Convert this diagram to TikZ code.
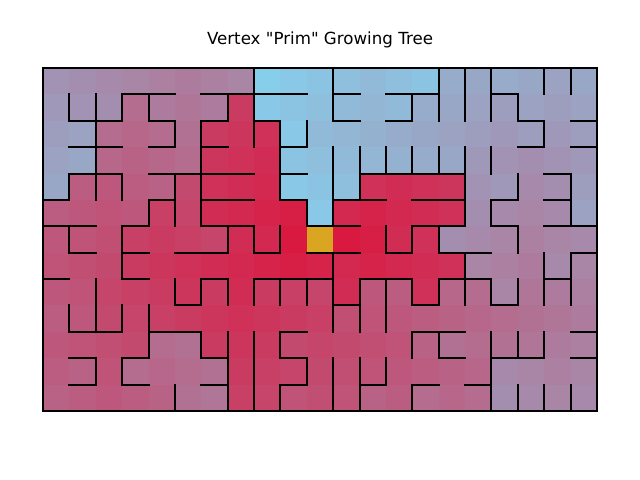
\documentclass[tikz,border=0pt]{standalone}
\usepackage{fontspec}
\setmainfont{DejaVu Sans}[Ligatures=TeXOff]
\definecolor{crimsonc}{RGB}{220,20,60}
\definecolor{skyc}{RGB}{135,206,235}
\definecolor{goldc}{RGB}{218,165,32}
\tikzset{wall/.style={line width=1.45pt,line cap=rect,black}}
\newcommand\mzX{43}
\newcommand\mzY{68}
\newcommand\mzC{26.381}
\newcommand\mzcell[3]{\fill[crimsonc!#3!skyc] ({\mzX+#1*\mzC},{\mzY+#2*\mzC}) rectangle ++(\mzC+0.5,\mzC+0.5);}
\newcommand\mzroot[2]{\fill[goldc] ({\mzX+#1*\mzC},{\mzY+#2*\mzC}) rectangle ++(\mzC+0.5,\mzC+0.5);}
\newcommand\mzlost[2]{\fill[white] ({\mzX+#1*\mzC},{\mzY+#2*\mzC}) rectangle ++(\mzC+0.5,\mzC+0.5);}
\newcommand\mzvwall[2]{\draw[wall] ({\mzX+#1*\mzC},{\mzY+#2*\mzC}) -- ++(0,\mzC);}
\newcommand\mzhwall[2]{\draw[wall] ({\mzX+#2*\mzC},{\mzY+#1*\mzC}) -- ++(\mzC,0);}
\ExplSyntaxOn
\intarray_new:Nn \g_mz_vw_intarray {300}
\intarray_new:Nn \g_mz_hw_intarray {300}
\intarray_new:Nn \g_mz_dist_intarray {300}
\intarray_new:Nn \g_mz_queue_intarray {300}
\int_new:N \l_mz_head_int
\int_new:N \l_mz_tail_int
\int_new:N \l_mz_cell_int
\int_new:N \l_mz_ci_int
\int_new:N \l_mz_cj_int
\int_new:N \l_mz_d_int
\int_new:N \g_mz_max_int
\NewDocumentCommand \mzV { m m }
  { \clist_map_inline:nn {#2} { \intarray_gset:Nnn \g_mz_vw_intarray { (#1)*13 + (##1) + 1 } {1} } }
\NewDocumentCommand \mzH { m m }
  { \clist_map_inline:nn {#2} { \intarray_gset:Nnn \g_mz_hw_intarray { (#1)*21 + (##1) + 1 } {1} } }
\cs_new_protected:Npn \mz_push:nnn #1#2#3
  {
    \intarray_gset:Nnn \g_mz_dist_intarray { (#2)*21 + (#1) + 1 } { (#3) + 1 }
    \int_incr:N \l_mz_tail_int
    \intarray_gset:Nnn \g_mz_queue_intarray { \l_mz_tail_int } { (#2)*21 + (#1) }
    \int_gset:Nn \g_mz_max_int { \int_max:nn { \g_mz_max_int } { #3 } }
  }
\cs_new_protected:Npn \mz_try:nn #1#2
  {
    \int_compare:nNnT { \intarray_item:Nn \g_mz_dist_intarray { (#2)*21 + (#1) + 1 } } = {0}
      { \mz_push:nnn {#1} {#2} { \l_mz_d_int } }
  }
\cs_new_protected:Npn \mz_bfs:
  {
    \int_set:Nn \l_mz_head_int {0}
    \int_set:Nn \l_mz_tail_int {0}
    \mz_push:nnn {10} {6} {0}
    \int_while_do:nNnn { \l_mz_head_int } < { \l_mz_tail_int }
      {
        \int_incr:N \l_mz_head_int
        \int_set:Nn \l_mz_cell_int { \intarray_item:Nn \g_mz_queue_intarray { \l_mz_head_int } }
        \int_set:Nn \l_mz_ci_int { \int_mod:nn { \l_mz_cell_int } {21} }
        \int_set:Nn \l_mz_cj_int { \int_div_truncate:nn { \l_mz_cell_int } {21} }
        \int_set:Nn \l_mz_d_int { \intarray_item:Nn \g_mz_dist_intarray { \l_mz_cell_int + 1 } }
        \int_compare:nNnT { \l_mz_ci_int } > {0}
          {
            \int_compare:nNnT { \intarray_item:Nn \g_mz_vw_intarray { \l_mz_ci_int * 13 + \l_mz_cj_int + 1 } } = {0}
              { \mz_try:nn { \l_mz_ci_int - 1 } { \l_mz_cj_int } }
          }
        \int_compare:nNnT { \l_mz_ci_int } < {20}
          {
            \int_compare:nNnT { \intarray_item:Nn \g_mz_vw_intarray { (\l_mz_ci_int + 1) * 13 + \l_mz_cj_int + 1 } } = {0}
              { \mz_try:nn { \l_mz_ci_int + 1 } { \l_mz_cj_int } }
          }
        \int_compare:nNnT { \l_mz_cj_int } > {0}
          {
            \int_compare:nNnT { \intarray_item:Nn \g_mz_hw_intarray { \l_mz_cj_int * 21 + \l_mz_ci_int + 1 } } = {0}
              { \mz_try:nn { \l_mz_ci_int } { \l_mz_cj_int - 1 } }
          }
        \int_compare:nNnT { \l_mz_cj_int } < {12}
          {
            \int_compare:nNnT { \intarray_item:Nn \g_mz_hw_intarray { (\l_mz_cj_int + 1) * 21 + \l_mz_ci_int + 1 } } = {0}
              { \mz_try:nn { \l_mz_ci_int } { \l_mz_cj_int + 1 } }
          }
      }
  }
\NewDocumentCommand \mzDrawCells { }
  {
    \mz_bfs:
    \int_step_inline:nnn {0} {12}
      {
        \int_step_inline:nnn {0} {20}
          {
            \int_set:Nn \l_mz_d_int { \intarray_item:Nn \g_mz_dist_intarray { ##1 * 21 + ####1 + 1 } }
            \int_compare:nNnTF { \l_mz_d_int } = {0}
              { \mzlost {####1} {##1} }
              {
                \int_compare:nNnTF { \l_mz_d_int } = {1}
                  { \mzroot {####1} {##1} }
                  {
                    \use:e
                      {
                        \exp_not:N \mzcell {####1} {##1}
                          { \fp_eval:n { round( 100 * (1 - (\l_mz_d_int - 1) / \g_mz_max_int ) , 2) } }
                      }
                  }
              }
          }
      }
  }
\NewDocumentCommand \mzDrawWalls { }
  {
    \int_step_inline:nnn {1} {20}
      {
        \int_step_inline:nnn {0} {12}
          {
            \int_compare:nNnT { \intarray_item:Nn \g_mz_vw_intarray { ##1 * 13 + ####1 + 1 } } = {1}
              { \mzvwall {##1} {####1} }
          }
      }
    \int_step_inline:nnn {1} {12}
      {
        \int_step_inline:nnn {0} {20}
          {
            \int_compare:nNnT { \intarray_item:Nn \g_mz_hw_intarray { ##1 * 21 + ####1 + 1 } } = {1}
              { \mzhwall {##1} {####1} }
          }
      }
  }
\ExplSyntaxOff
% vertical walls: \mzV{x-line}{rows}
\mzV{1}{1,4,6,9}
\mzV{2}{1,2,3,4,8,9,11}
\mzV{3}{1,4,6,7,9,11}
\mzV{4}{1,5,9,10}
\mzV{5}{2,4,5,8,12}
\mzV{6}{2,3,4,5,8,10}
\mzV{7}{1,6,8,10,11,12}
\mzV{8}{0,1,2,6,8,10,11,12}
\mzV{9}{2,3,4,6,8,10,12}
\mzV{10}{2,5,8,11}
\mzV{11}{0,1,3,4,5,7,8,9,11,12}
\mzV{12}{3,4,8,9,11,12}
\mzV{13}{3,6,8,9,11}
\mzV{14}{1,3,6,8,10,12}
\mzV{15}{0,1,3,6,8,10}
\mzV{16}{0,1,3,4,5,7,8}
\mzV{17}{0,1,3,5,8,10,11,12}
\mzV{18}{1,4,6,8,10,12}
\mzV{19}{0,2,7,8,10,12}
\mzV{20}{0,4,5,7,8,12}
% horizontal walls: \mzH{y-line}{columns}
\mzH{1}{3,4,6,7,8,9,11,13,14,17}
\mzH{2}{1,2,4,6,8,11,13,18,20}
\mzH{3}{1,2,4,6,9,18,20}
\mzH{4}{1,2,4,5,6,7,9,12,13,14,15,19}
\mzH{5}{0,4,6,7,9,11,12,14,15,17,19}
\mzH{6}{0,1,3,6,7,10,11,14,15,17,19,20}
\mzH{7}{1,3,5,6,8,10,11,13,15,16,20}
\mzH{8}{0,3,6,8,9,10,12,13,15,16,19}
\mzH{9}{5,11,14,17}
\mzH{10}{1,2,4,5,9,14,15,20}
\mzH{11}{1,3,6,9,15,17,18,20}
\mzH{12}{1,3,6,9,12,14,16}
\begin{document}
\begin{tikzpicture}[x=0.72pt,y=-0.72pt]
\useasboundingbox (0,0) rectangle (640,480);
\fill[white] (0,0) rectangle (640,480);
\node[anchor=base,font=\fontsize{12}{14}\selectfont] (title) at (320,44) {Vertex "Prim" Growing Tree};
\mzDrawCells
\mzDrawWalls
\draw[wall,line cap=butt,line join=miter] (\mzX,\mzY) rectangle (597,{\mzY+13*\mzC});
\end{tikzpicture}
\end{document}
